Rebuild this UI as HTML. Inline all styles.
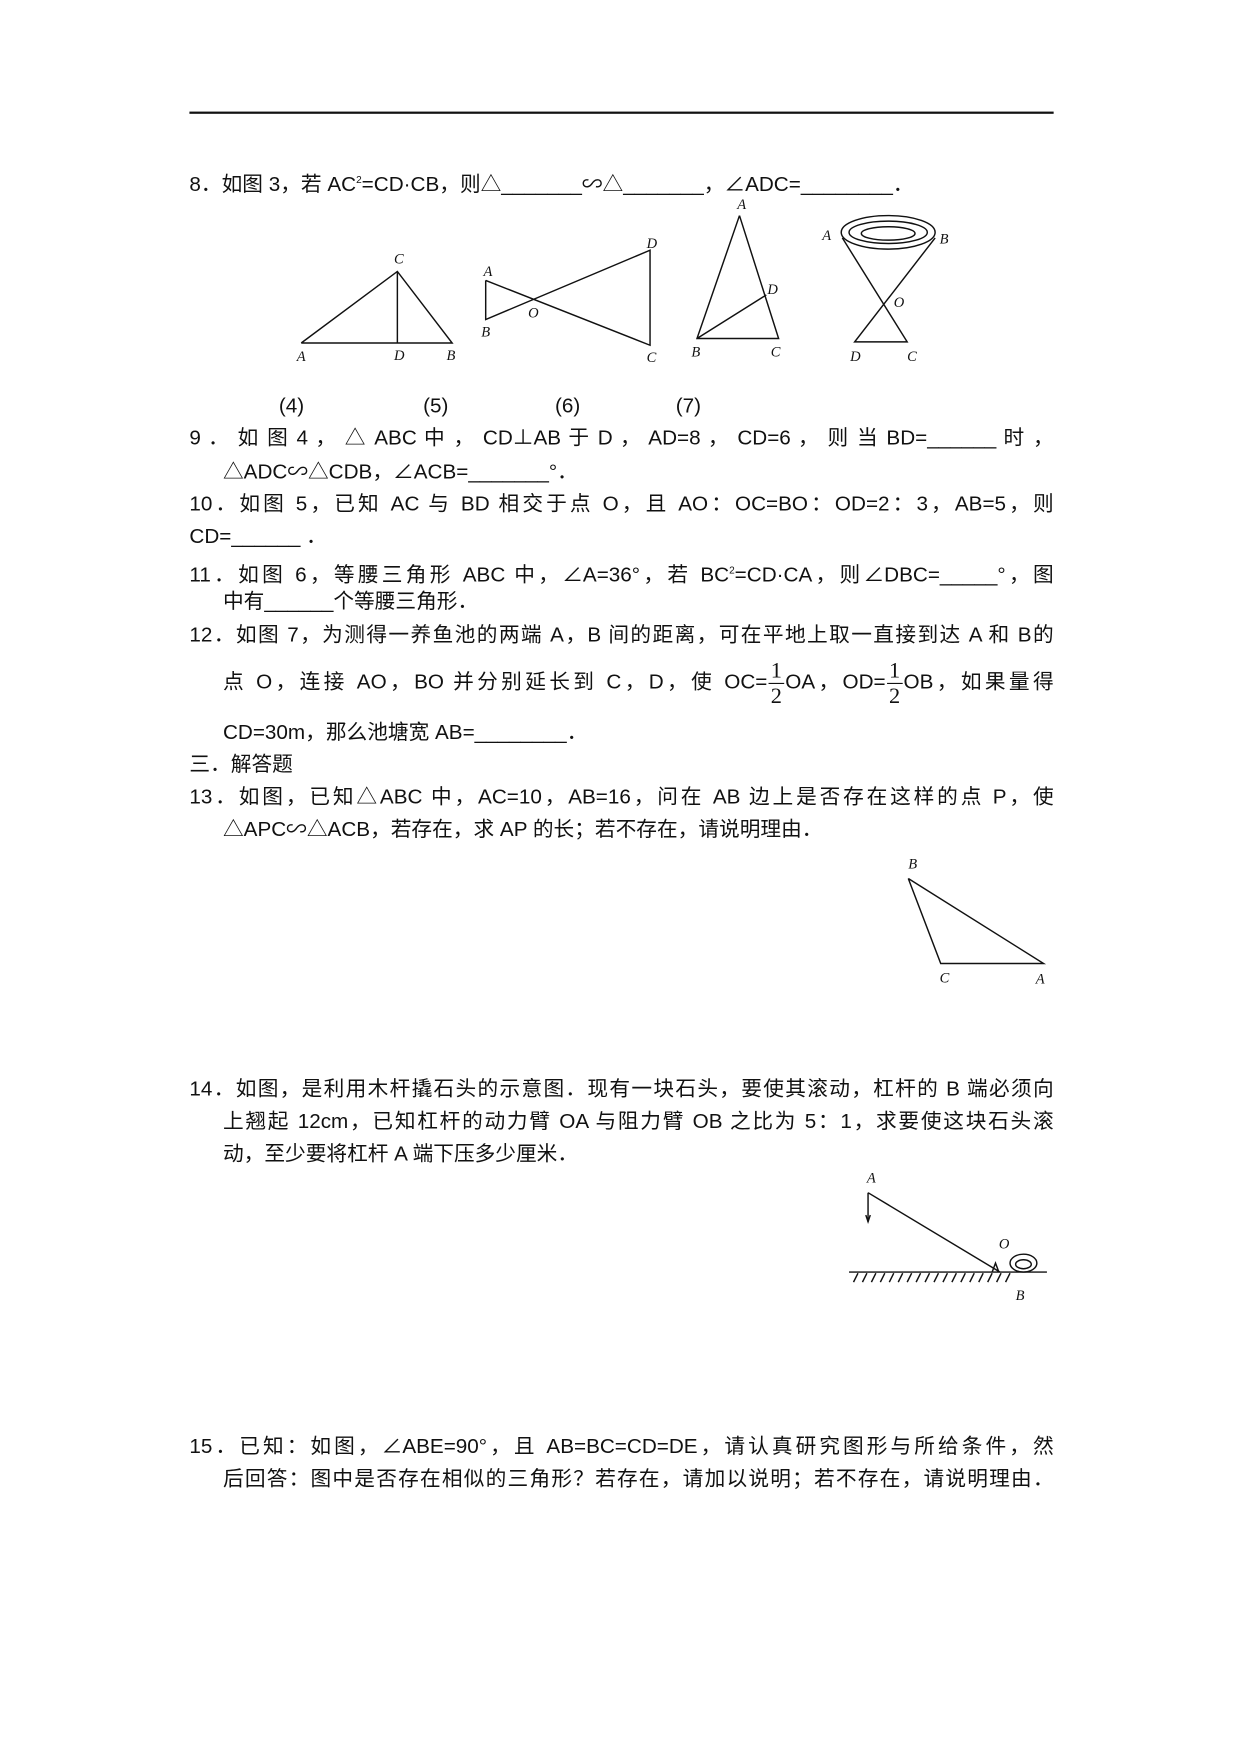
<!DOCTYPE html>
<html><head><meta charset="utf-8"><style>
body{margin:0;background:#fff;overflow:hidden;}
#w{position:absolute;left:0;top:0;width:1100px;height:1556px;transform:translate(1.6px,0.9px) scale(1.118);transform-origin:0 0;font-family:"Liberation Sans","Noto Sans CJK SC",sans-serif;font-size:18.5px;color:#111;}
.l{position:absolute;white-space:nowrap;line-height:20px;}
.j{text-align:justify;text-align-last:justify;white-space:normal;}
.fr{display:inline-block;vertical-align:middle;text-align:center;font-family:"Liberation Serif",serif;font-size:20px;line-height:22px;margin:0 1px;}
.fr span{display:block;padding:0 2px;}
.fr .n{border-bottom:1px solid #111;}
svg text{font-family:"Liberation Serif",serif;font-style:italic;font-size:13px;}
</style></head><body><div id="w">
<div style="position:absolute;left:168px;top:99px;width:773px;height:2px;background:#111"></div>
<div class="l" style="left:168px;top:150px">8．如图 3，若 AC<sup style="font-size:9px">2</sup>=CD·CB，则△_______∽△_______，∠ADC=________．</div>
<svg width="1100" height="1556" style="position:absolute;left:0;top:0" fill="none" stroke="#111" stroke-width="1.3">
<path d="M268 306H403L354 242L268 306M354 242V306"/>
<path d="M433 250V285L580 223V308L433 250"/>
<path d="M660 192L622 302H695L660 192M622 302L684 263"/>
<path d="M752 212L810 305H763L835 212"/>
<ellipse cx="793" cy="207" rx="42" ry="15"/><ellipse cx="793" cy="207" rx="35" ry="10"/><ellipse cx="793" cy="208" rx="24" ry="6"/>
<path d="M811 785L840 861H932L811 785"/>
<path d="M775 1066L893 1137M775 1066V1092M758 1137H935"/>
<path d="M773 1086L775 1092L777 1086"/>
<path d="M762 1146l4-8M770 1146l4-8M778 1146l4-8M786 1146l4-8M794 1146l4-8M802 1146l4-8M810 1146l4-8M818 1146l4-8M826 1146l4-8M834 1146l4-8M842 1146l4-8M850 1146l4-8M858 1146l4-8M866 1146l4-8M874 1146l4-8M882 1146l4-8M890 1146l4-8M898 1146l4-8"/>
<path d="M886 1137l3-8l3 8"/>
<ellipse cx="914" cy="1129" rx="12" ry="8"/><ellipse cx="914" cy="1130" rx="7" ry="4"/>
<g fill="#111" stroke="none">
<text x="264" y="322">A</text><text x="351" y="321">D</text><text x="398" y="321">B</text><text x="351" y="235">C</text>
<text x="431" y="246">A</text><text x="429" y="300">B</text><text x="471" y="283">O</text><text x="577" y="221">D</text><text x="577" y="323">C</text>
<text x="658" y="186">A</text><text x="617" y="318">B</text><text x="688" y="318">C</text><text x="685" y="262">D</text>
<text x="734" y="214">A</text><text x="839" y="217">B</text><text x="798" y="274">O</text><text x="759" y="322">D</text><text x="810" y="322">C</text>
<text x="811" y="776">B</text><text x="839" y="878">C</text><text x="925" y="879">A</text>
<text x="774" y="1057">A</text><text x="892" y="1116">O</text><text x="907" y="1162">B</text>
</g></svg>
<div class="l" style="left:248px;top:352px">(4)</div><div class="l" style="left:377px;top:352px">(5)</div><div class="l" style="left:495px;top:352px">(6)</div><div class="l" style="left:603px;top:352px">(7)</div>
<div class="l j" style="left:168px;top:381px;width:773px">9 ． 如 图 4 ， △ ABC 中 ， CD⊥AB 于 D ， AD=8 ， CD=6 ， 则 当 BD=______ 时 ，</div>
<div class="l" style="left:198px;top:411px">△ADC∽△CDB，∠ACB=_______°．</div>
<div class="l j" style="left:168px;top:440px;width:773px">10．如图 5，已知 AC 与 BD 相交于点 O，且 AO：OC=BO：OD=2：3，AB=5，则</div>
<div class="l" style="left:168px;top:469px">CD=______ ．</div>
<div class="l j" style="left:168px;top:499px;width:773px">11．如图 6，等腰三角形 ABC 中，∠A=36°，若 BC<sup style="font-size:9px">2</sup>=CD·CA，则∠DBC=_____°，图</div>
<div class="l" style="left:198px;top:527px">中有______个等腰三角形．</div>
<div class="l j" style="left:168px;top:557px;width:773px">12．如图 7，为测得一养鱼池的两端 A，B 间的距离，可在平地上取一直接到达 A 和 B的</div>
<div class="l j" style="left:198px;top:587px;width:743px;line-height:44px">点 O，连接 AO，BO 并分别延长到 C，D，使 OC=<span class="fr"><span class="n">1</span><span>2</span></span>OA，OD=<span class="fr"><span class="n">1</span><span>2</span></span>OB，如果量得</div>
<div class="l" style="left:198px;top:644px">CD=30m，那么池塘宽 AB=________．</div>
<div class="l" style="left:168px;top:673px">三．解答题</div>
<div class="l j" style="left:168px;top:702px;width:773px">13．如图，已知△ABC 中，AC=10，AB=16，问在 AB 边上是否存在这样的点 P，使</div>
<div class="l" style="left:198px;top:731px">△APC∽△ACB，若存在，求 AP 的长；若不存在，请说明理由．</div>
<div class="l j" style="left:168px;top:963px;width:773px">14．如图，是利用木杆撬石头的示意图．现有一块石头，要使其滚动，杠杆的 B 端必须向</div>
<div class="l j" style="left:198px;top:992px;width:743px">上翘起 12cm，已知杠杆的动力臂 OA 与阻力臂 OB 之比为 5：1，求要使这块石头滚</div>
<div class="l" style="left:198px;top:1021px">动，至少要将杠杆 A 端下压多少厘米．</div>
<div class="l j" style="left:168px;top:1283px;width:773px">15．已知：如图，∠ABE=90°，且 AB=BC=CD=DE，请认真研究图形与所给条件，然</div>
<div class="l j" style="left:198px;top:1312px;width:743px">后回答：图中是否存在相似的三角形？若存在，请加以说明；若不存在，请说明理由．</div>
</div></body></html>
